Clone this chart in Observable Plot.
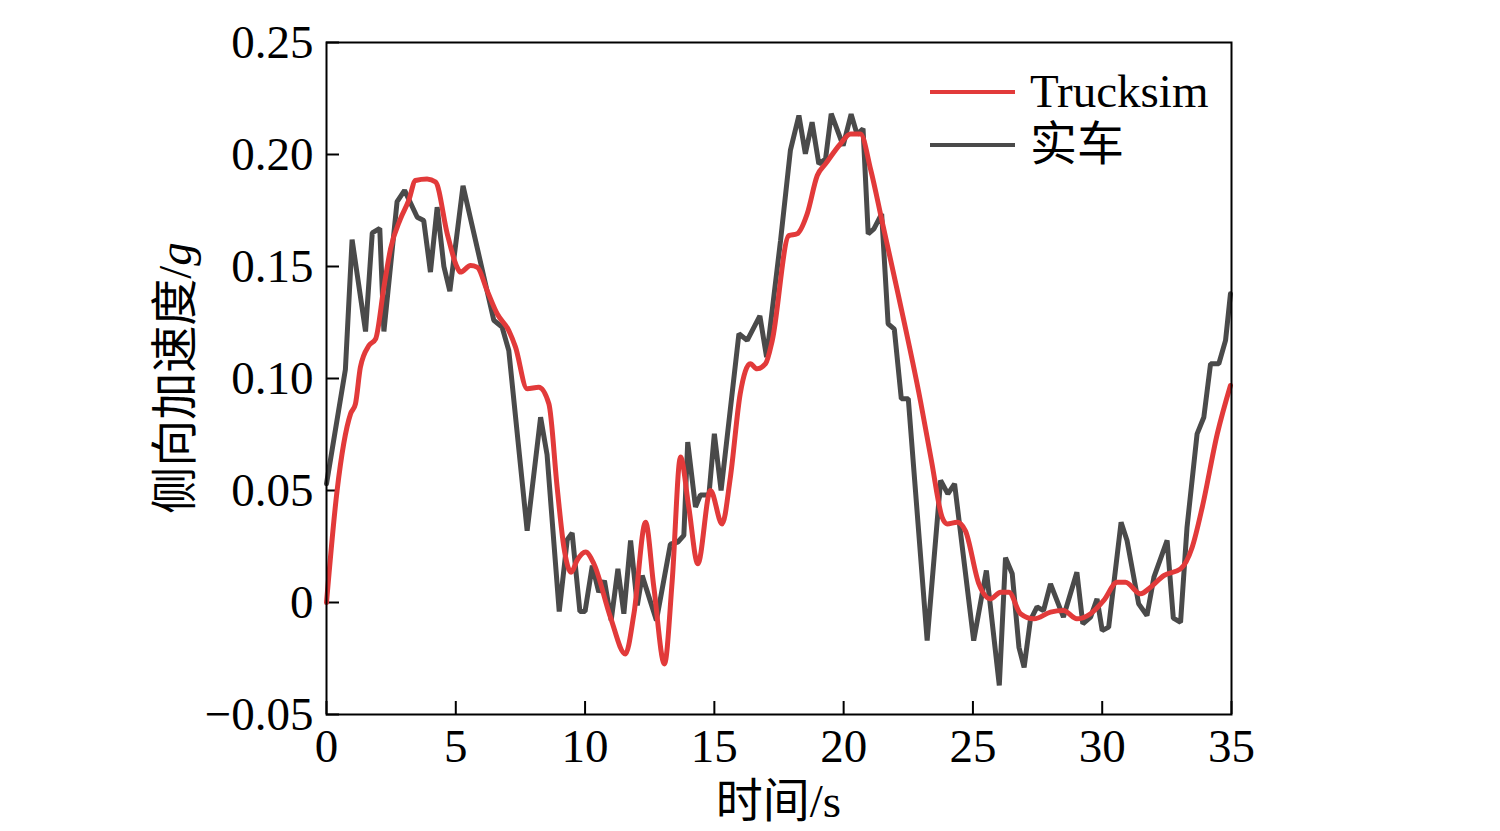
<!DOCTYPE html>
<html><head><meta charset="utf-8">
<script src="https://cdn.jsdelivr.net/npm/d3@7"></script>
<script src="https://cdn.jsdelivr.net/npm/@observablehq/plot@0.6"></script>
<style>html,body{margin:0;padding:0;background:#fff}</style>
</head><body><div id="chart"></div>
<script>
// 实车 (measured) series
const realTime = [0,0.73,0.99,1.51,1.77,2.06,2.22,2.73,3.02,3.51,3.76,4.02,4.28,4.54,4.77,5.28,6.47,6.79,7.05,7.76,8.28,8.53,9.0,9.31,9.5,9.8,10.0,10.28,10.53,10.75,11.01,11.27,11.5,11.76,12.02,12.21,12.76,13.3,13.59,13.82,13.97,14.27,14.46,14.79,15.0,15.26,15.95,16.27,16.76,17.02,17.56,17.94,18.27,18.52,18.78,19.04,19.3,19.52,19.98,20.29,20.52,20.75,20.95,21.17,21.47,21.72,21.96,22.23,22.5,23.23,23.75,24.03,24.29,25.03,25.52,26.02,26.26,26.52,26.78,26.98,27.22,27.48,27.73,28.0,28.5,29.02,29.25,29.55,29.8,30.0,30.25,30.73,30.96,31.41,31.73,32.0,32.51,32.75,33.03,33.28,33.67,33.93,34.19,34.51,34.77,34.96];
const realValue = [0.053,0.104,0.162,0.121,0.165,0.167,0.121,0.179,0.184,0.172,0.1705,0.1475,0.1765,0.150,0.139,0.186,0.126,0.123,0.1125,0.032,0.0827,0.066,-0.004,0.028,0.031,-0.004,-0.004,0.0165,0.0046,0.0098,-0.008,0.015,-0.005,0.0277,-0.0013,0.012,-0.008,0.026,0.027,0.030,0.0716,0.0426,0.048,0.048,0.0753,0.050,0.120,0.117,0.128,0.1095,0.1616,0.2018,0.2174,0.2003,0.2144,0.1958,0.198,0.2182,0.204,0.218,0.209,0.2115,0.1646,0.1668,0.1735,0.1244,0.122,0.091,0.091,-0.017,0.0545,0.0485,0.053,-0.017,0.0143,-0.037,0.020,0.0128,-0.02,-0.029,-0.008,-0.002,-0.0036,0.0083,-0.0065,0.0135,-0.0095,-0.0065,0.0016,-0.0125,-0.011,0.0358,0.0277,-0.0006,-0.0058,0.0113,0.0277,-0.007,-0.0088,0.0336,0.0753,0.0827,0.1066,0.1066,0.117,0.1378];
// Trucksim series
const simTime = [0,0.41,0.93,1.12,1.31,1.64,1.9,2.22,2.48,2.86,3.18,3.44,3.89,4.22,4.67,5.05,5.18,5.57,5.83,6.21,6.6,7.05,7.31,7.76,8.21,8.6,8.92,9.18,9.46,9.69,10.02,10.34,10.98,11.56,11.89,12.34,12.66,13.07,13.37,13.69,14.01,14.36,14.85,15.3,15.62,16.0,16.39,16.65,16.98,17.24,17.88,18.2,18.59,18.98,19.3,19.88,20.27,20.65,21.05,21.49,22.1,22.97,23.4,23.81,24.0,24.39,24.71,25.23,25.68,26.07,26.39,26.84,27.36,28.0,28.5,29.02,29.55,30.06,30.58,30.9,31.48,31.87,32.38,33.03,33.48,33.87,34.45,34.96];
const simValue = [0,0.05,0.0842,0.0887,0.105,0.1147,0.1177,0.1408,0.158,0.1713,0.1795,0.1884,0.1891,0.1877,0.1646,0.1497,0.1475,0.1504,0.1497,0.1393,0.1289,0.1214,0.114,0.0954,0.0961,0.0887,0.0515,0.0247,0.0135,0.0188,0.0225,0.0173,-0.0065,-0.023,-0.005,0.0358,0.0068,-0.0274,0.0098,0.0649,0.0426,0.0173,0.05,0.0351,0.056,0.0932,0.1066,0.1043,0.1066,0.117,0.1638,0.1646,0.1735,0.1906,0.1958,0.2048,0.2092,0.2092,0.193,0.170,0.138,0.09,0.063,0.038,0.0351,0.0358,0.032,0.0083,0.0016,0.0046,0.0046,-0.005,-0.0073,-0.0043,-0.0036,-0.0073,-0.005,0.0009,0.009,0.009,0.0039,0.0068,0.012,0.015,0.0247,0.0426,0.0753,0.0969];

const xTicks = [0,5,10,15,20,25,30,35];
const yTicks = [-0.05,0,0.05,0.10,0.15,0.20,0.25];
const seriesNames = ["Trucksim","实车"];
const seriesColors = ["#e23a3a","#4a4a4a"];
const xLabel = "时间/s";
const yLabelMain = "侧向加速度/";
const yLabelUnit = "g";

const real = realTime.map((t,i)=>({t, v: realValue[i]}));
const sim = simTime.map((t,i)=>({t, v: simValue[i]}));

const FONT = "'Liberation Serif','Noto Sans CJK SC',serif";
const W = 1500, H = 831, ML = 326, MR = 269, MT = 42, MB = 117;
const innerW = W - ML - MR, innerH = H - MT - MB, tickLen = 13;

const fmtY = d => d === 0 ? "0" : (d < 0 ? "\u2212" : "") + Math.abs(d).toFixed(2);

const svg = Plot.plot({
  width: W, height: H,
  marginLeft: ML, marginRight: MR, marginTop: MT, marginBottom: MB,
  x: {domain: [0, 35]},
  y: {domain: [-0.05, 0.25]},
  style: {fontFamily: FONT, fontSize: "47px", background: "#fff", color: "#000"},
  marks: [
    Plot.tickY(yTicks, {y: d => d, stroke: "#000", strokeWidth: 2, insetRight: innerW - tickLen}),
    Plot.tickX(xTicks, {x: d => d, stroke: "#000", strokeWidth: 2, insetTop: innerH - tickLen}),
    Plot.axisY({ticks: yTicks, tickSize: 0, tickPadding: 13, tickFormat: fmtY, label: null, fontSize: 47}),
    Plot.axisX({ticks: xTicks, tickSize: 0, tickPadding: 14, tickFormat: d => String(d), label: null, fontSize: 47}),
    Plot.line(real, {x: "t", y: "v", stroke: seriesColors[1], strokeWidth: 5, strokeLinejoin: "miter"}),
    Plot.line(sim, {x: "t", y: "v", stroke: seriesColors[0], strokeWidth: 5, curve: "monotone-x"}),
    Plot.frame({stroke: "#000", strokeWidth: 2})
  ]
});
document.getElementById("chart").appendChild(svg);

const s = d3.select(svg);
// axis titles
s.append("text").attr("x", ML + innerW/2).attr("y", 817)
  .attr("text-anchor", "middle").attr("font-family", FONT).attr("font-size", 47).attr("fill", "#000")
  .text(xLabel);
const yl = s.append("text").attr("transform", `translate(191,${MT + innerH/2}) rotate(-90)`)
  .attr("text-anchor", "middle").attr("font-family", FONT).attr("font-size", 47).attr("fill", "#000");
yl.append("tspan").text(yLabelMain);
yl.append("tspan").attr("font-style", "italic").text(yLabelUnit);

// legend
seriesNames.forEach((name, i) => {
  const y = 92 + i * 53;
  s.append("line").attr("x1", 930).attr("x2", 1015).attr("y1", y).attr("y2", y)
    .attr("stroke", seriesColors[i]).attr("stroke-width", 4);
  s.append("text").attr("x", 1030).attr("y", y + 15).attr("text-anchor", "start").attr("font-family", FONT)
    .attr("font-size", 47).attr("fill", "#000").text(name);
});
</script>
</body></html>
